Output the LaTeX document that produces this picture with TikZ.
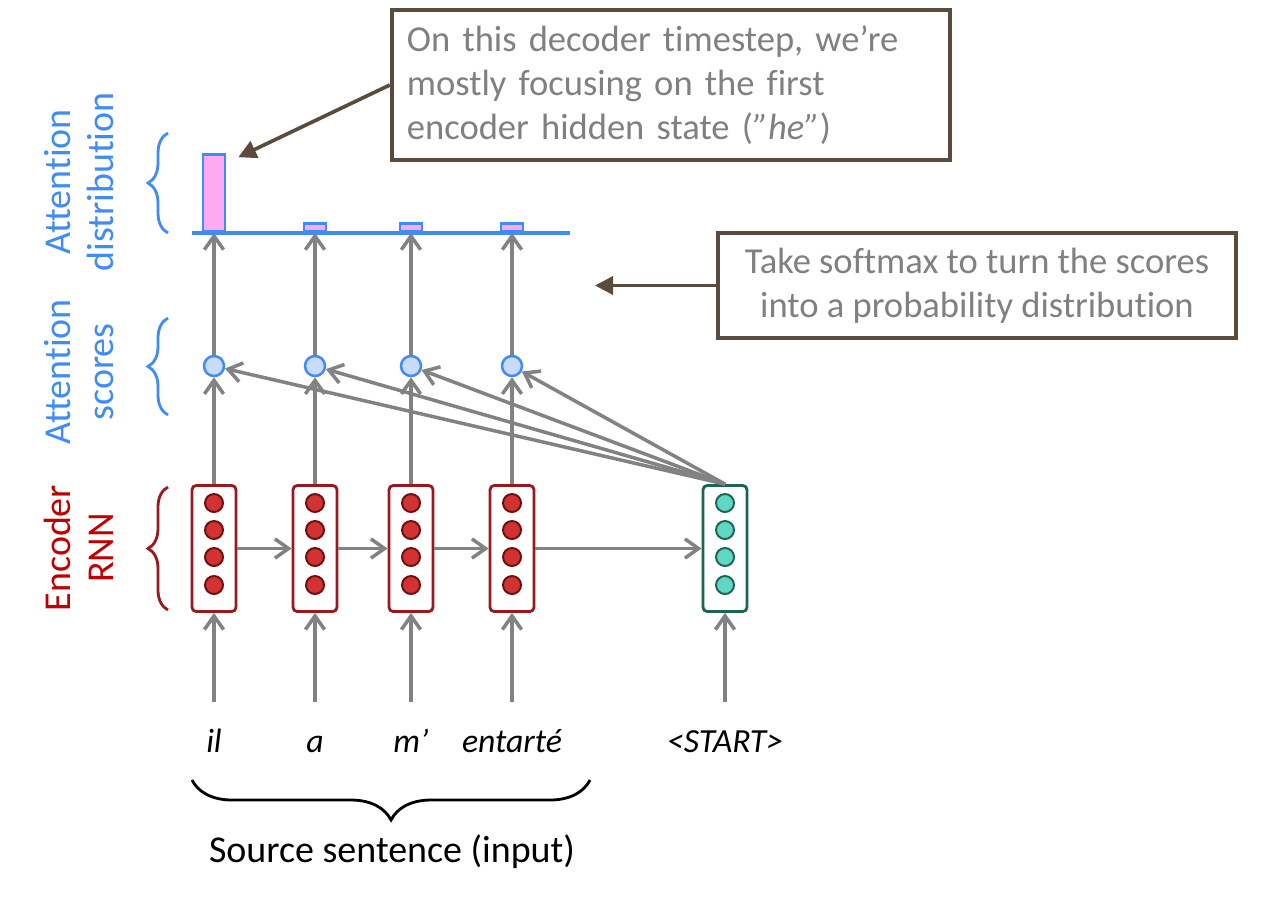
\documentclass[tikz,border=0pt]{standalone}
\usepackage{fontspec}
\setmainfont{Carlito}[RawFeature=-liga]
\usetikzlibrary{arrows.meta,decorations.pathreplacing}

\definecolor{attblue}{RGB}{64,140,245}
\definecolor{scfill}{RGB}{200,220,250}
\definecolor{barpink}{RGB}{255,170,240}
\definecolor{encred}{RGB}{155,25,30}
\definecolor{lblred}{RGB}{192,0,0}
\definecolor{dotred}{RGB}{210,50,50}
\definecolor{dotdark}{RGB}{110,15,15}
\definecolor{decteal}{RGB}{30,100,85}
\definecolor{dotteal}{RGB}{95,215,195}
\definecolor{arrgray}{RGB}{130,130,130}
\definecolor{notebrown}{RGB}{90,75,60}
\definecolor{notetext}{RGB}{128,128,128}

\tikzset{
  arr/.style={draw=arrgray, line width=2.5pt, -{Straight Barb[length=3.4mm,width=4.8mm]}},
  encbox/.style={draw=encred, line width=2pt, rounded corners=3pt, fill=white,
    minimum width=1.1cm, minimum height=3.15cm, inner sep=0pt},
  decbox/.style={encbox, draw=decteal},
  edot/.style={circle, draw=dotdark, fill=dotred, line width=1.4pt, minimum size=0.45cm, inner sep=0pt},
  ddot/.style={edot, draw=decteal, fill=dotteal},
  score/.style={circle, draw=attblue, fill=scfill, line width=1.8pt, minimum size=0.5cm, inner sep=0pt},
  bar/.style={draw=attblue, fill=barpink, line width=1.8pt, minimum width=0.55cm, inner sep=0pt, anchor=south},
  word/.style={font=\fontsize{24}{28}\selectfont\itshape, text height=0.6cm, text depth=0.12cm},
  sidelbl/.style={rotate=90, align=center, font=\fontsize{27}{31}\selectfont},
  notebox/.style={draw=notebrown, line width=3pt, text=notetext, inner sep=0pt,
    font=\fontsize{26}{31.5}\selectfont},
  notearr/.style={draw=notebrown, line width=2.6pt, -{Triangle[length=4.5mm,width=4.5mm]}},
  sbrace/.style={decorate, decoration={brace, amplitude=0.5cm}, line width=2pt},
}

\begin{document}
\begin{tikzpicture}[x=0.025cm, y=-0.025cm]
  \useasboundingbox (0,0) rectangle (1280,904);

  % encoder, decoder and scores
  \foreach \i/\x in {1/214,2/315,3/411,4/512} {
    \node[encbox] (e\i) at (\x,548.5) {};
    \foreach \k in {503,530,557,585} \node[edot] at (\x,\k) {};
    \node[score] (s\i) at (\x,366) {};
    \coordinate (a\i) at (\x,233);
  }
  \node[decbox] (dec) at (725,548.5) {};
  \foreach \k in {503,530,557,585} \node[ddot] at (725,\k) {};

  % attention distribution
  \draw[attblue, line width=2.2pt] (192,233) -- (570,233);
  \node[bar, minimum height=1.93cm] (b1) at (a1) {};
  \foreach \i in {2,3,4} \node[bar, minimum height=0.2cm] (b\i) at (a\i) {};

  % words
  \foreach \i/\x/\t in {1/214/il, 2/315/a, 3/411/m’, 4/512/entarté} {
    \node[word] (w\i) at (\x,743) {\t};
    \draw[arr, shorten <=0.55cm] (w\i.north) -- (e\i.south);
    \draw[arr] (e\i.north) -- (s\i);
    \draw[arr] (s\i) -- (a\i);
    \draw[arr] (dec.north) -- (s\i);
  }
  \node[word] (wd) at (725,743) {<START>};
  \draw[arr, shorten <=0.55cm] (wd.north) -- (dec.south);
  \draw[arr] (e1) -- (e2);
  \draw[arr] (e2) -- (e3);
  \draw[arr] (e3) -- (e4);
  \draw[arr] (e4) -- (dec);

  \draw[sbrace, decoration={amplitude=1cm}] (590,780) -- (192,780);
  \node[font=\fontsize{27}{31}\selectfont] (src) at (392,852) {Source sentence (input)};

  % side labels
  \node[sidelbl, text=attblue] (ldist) at (79,182) {Attention\\distribution};
  \node[sidelbl, text=attblue] (lsc) at (79,372) {Attention\\scores};
  \node[sidelbl, text=lblred] (lenc) at (79,548) {Encoder\\RNN};
  \draw[sbrace, draw=attblue] (168,233) -- (168,133);
  \draw[sbrace, draw=attblue] (168,415) -- (168,318);
  \draw[sbrace, draw=encred] (168,610) -- (168,487);

  % notes
  \node[notebox, minimum width=13.95cm, minimum height=3.75cm, text width=13.2cm, align=left]
    (n1) at (671,85) {On this decoder timestep, we’re\\mostly focusing on the first\\encoder hidden state (\textit{”he”})};
  \draw[notearr] (n1.west) -- ([xshift=0.3cm,yshift=-0.1cm]b1.north east);
  \node[notebox, minimum width=12.95cm, minimum height=2.63cm, align=center]
    (n2) at (977,285.5) {Take softmax to turn the scores\\into a probability distribution};
  \coordinate (p2) at (595,285.5);
  \draw[notearr] (n2.west) -- (p2);
\end{tikzpicture}
\end{document}
